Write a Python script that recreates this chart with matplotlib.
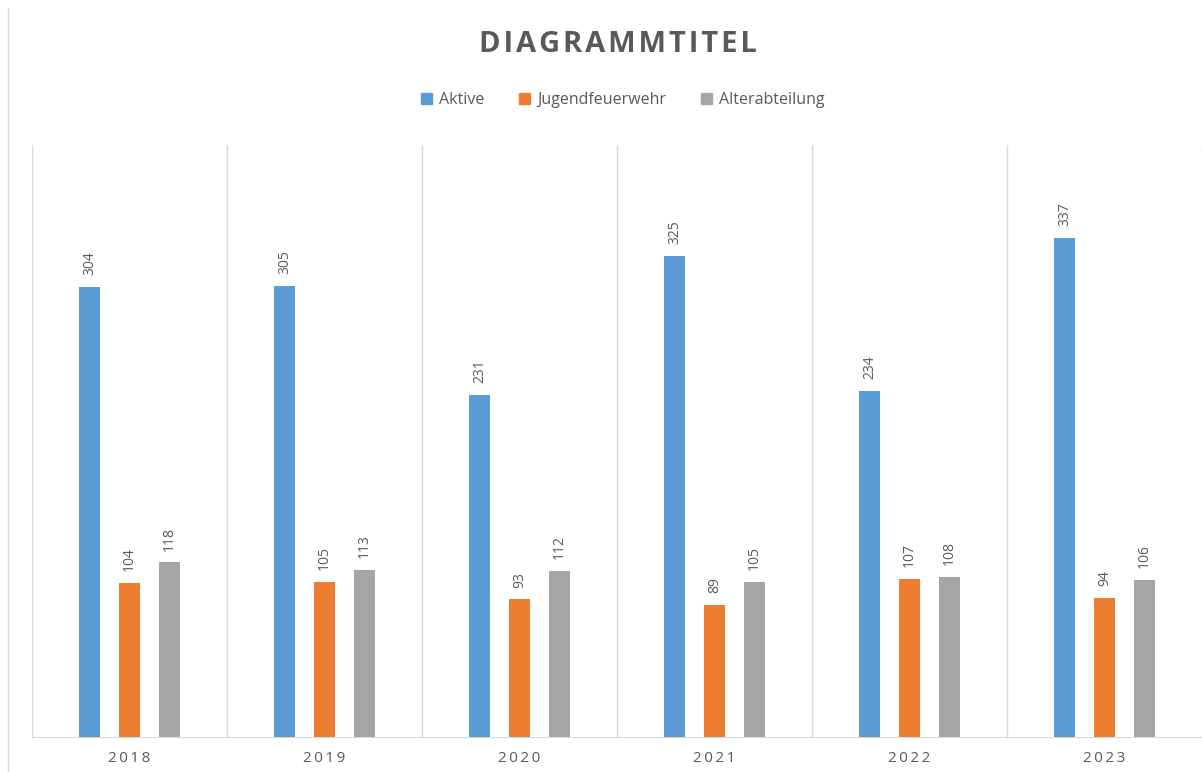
import numpy as np
import matplotlib.pyplot as plt
from matplotlib.lines import Line2D

years = ["2018", "2019", "2020", "2021", "2022", "2023"]
aktive = [304, 305, 231, 325, 234, 337]
jugend = [104, 105, 93, 89, 107, 94]
alter = [118, 113, 112, 105, 108, 106]
series_names = ["Aktive", "Jugendfeuerwehr", "Alterabteilung"]
colors = ["#5B9BD5", "#ED7D31", "#A5A5A5"]

plt.rcParams["font.family"] = ["Open Sans", "DejaVu Sans"]

fig = plt.figure(figsize=(12.02, 7.72), dpi=100)
ax = fig.add_axes([32 / 1202, 1 - 737 / 772, 1 - 32 / 1202, (737 - 145) / 772])

x = np.arange(len(years))
width = 0.108
offset = 0.205
for i, (vals, name, c) in enumerate(zip([aktive, jugend, alter], series_names, colors)):
    pos = x + (i - 1) * offset
    ax.bar(pos, vals, width, color=c, label=name, zorder=3)
    for p, v in zip(pos, vals):
        ax.text(p, v + 8, str(v), rotation=90, ha="center", va="bottom",
                fontsize=10, color="#595959")

ax.set_xlim(-0.5, len(years) - 0.5)
ax.set_ylim(0, 400)
ax.set_yticks([])
ax.set_xticks(x)
ax.set_xticklabels(["\u2009".join(y) for y in years], fontsize=11, color="#595959")
ax.tick_params(axis="x", length=0, pad=10)
for b in np.arange(-0.5, len(years) + 0.5, 1):
    ax.axvline(b, color="#D9D9D9", lw=1, zorder=1)
for s in ["top", "right", "left"]:
    ax.spines[s].set_visible(False)
ax.spines["bottom"].set_color("#D9D9D9")

fig.text(0.514, 1 - 45 / 772, "\u200a".join("DIAGRAMMTITEL"), ha="center", va="center",
         fontsize=21, fontweight="bold", color="#595959")

handles = [plt.Rectangle((0, 0), 1, 1, color=c) for c in colors]
fig.legend(handles, series_names, loc="center", bbox_to_anchor=(0.518, 1 - 100 / 772),
           ncol=3, frameon=False, fontsize=11.5, handlelength=0.7, handleheight=0.7,
           handletextpad=0.4, columnspacing=2.2, labelcolor="#595959")

fig.add_artist(Line2D([8 / 1202, 8 / 1202], [0, 1 - 8 / 772], transform=fig.transFigure,
                      color="#D9D9D9", lw=1))

fig.savefig("out.png", dpi=100)
